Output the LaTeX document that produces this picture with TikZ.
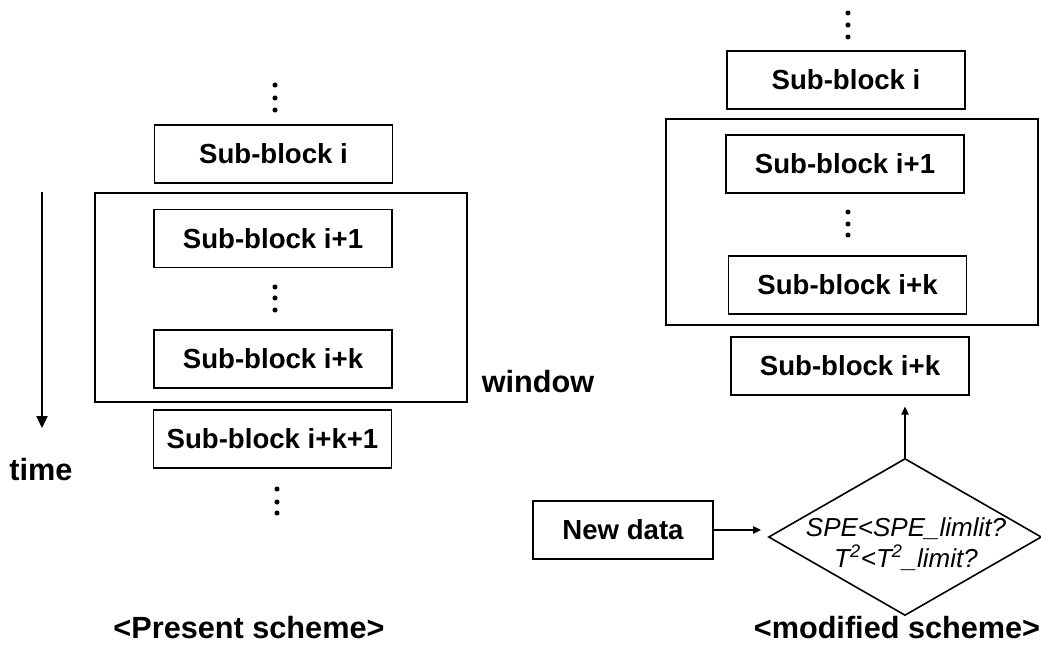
\documentclass[tikz,border=0pt]{standalone}
\usepackage{fontspec}
\setmainfont{Liberation Sans}
\usepackage{tikz}
\usetikzlibrary{calc,positioning,arrows.meta,shapes.geometric}
\newcommand{\blkfont}[0]{\fontsize{20.7}{24}\selectfont\bfseries}
\newcommand{\ttlfont}[0]{\fontsize{23}{26}\selectfont\bfseries}
\tikzset{
  subblk/.style={draw, line width=1.3pt, minimum width=178.5pt, minimum height=43.5pt, inner sep=0pt, font=\blkfont},
  winbox/.style={draw, line width=1.3pt, minimum width=279pt, inner sep=0pt},
  decision/.style={draw, diamond, line width=1.2pt, minimum width=204.75pt, minimum height=117.75pt, inner sep=0pt},
  condtxt/.style={align=center, inner sep=0pt, font=\fontsize{19.5}{23}\selectfont\itshape},
  ttl/.style={anchor=base, inner sep=0pt, font=\ttlfont},
  flow/.style={line width=0.9pt, -{Triangle[length=6pt,width=5.5pt]}}
}

\begin{document}
\begin{tikzpicture}[x=0.75pt,y=-0.75pt]
   \useasboundingbox (0,0) rectangle (1041,648);
   % present scheme
   \node[winbox, minimum height=156.75pt] (win1) at (281,297.5) {};
   \node[subblk] (sbi) at (273.5,154) {Sub-block i};
   \node[subblk] (sb1) at (273,238.5) {Sub-block i+1};
   \node[subblk] (sbk) at (273,359) {Sub-block i+k};
   \node[subblk] (sbk1) at (272.5,439) {Sub-block i+k+1};
   \node[ttl] (wlabel) at (538,392) {window};
           \foreach \y in {85,98,110}
    \fill (275,\y) circle (1.9pt);
           \foreach \y in {287,298,310}
    \fill (275,\y) circle (1.9pt);
           \foreach \y in {489,502,513}
    \fill (277,\y) circle (1.9pt);
   % time axis
   \coordinate (ttop) at (42,192);
   \coordinate (tbot) at (42,428);
   \draw[line width=0.9pt, -{Triangle[length=9pt,width=8.5pt]}] (ttop) -- (tbot);
   \node[ttl] (tlabel) at (41,480) {time};
   \node[ttl] (ptitle) at (249,638) {<Present scheme>};
   % modified scheme
   \node[winbox, minimum height=154.5pt] (win2) at (852,222) {};
   \node[subblk] (rsbi) at (846,80) {Sub-block i};
   \node[subblk] (rsb1) at (845,164) {Sub-block i+1};
   \node[subblk] (rsbk) at (847.5,285) {Sub-block i+k};
   \node[subblk] (rsbk2) at (850,366) {Sub-block i+k};
           \foreach \y in {13,25,37}
    \fill (848,\y) circle (1.9pt);
           \foreach \y in {212,224,235}
    \fill (848,\y) circle (1.9pt);
   \node[subblk, minimum width=135pt] (newd) at (623,530) {New data};
   \node[decision] (test) at (905,537) {};
   \node[condtxt] (cond) at (906,544) {SPE<SPE\_limlit?\\T\textsuperscript{2}<T\textsuperscript{2}\_limit?};
   \draw[flow, shorten >=5pt] (newd.east) -- (newd.east -| test.west);
   \draw[flow, shorten >=8pt] (test.north) -- (test.north |- rsbk2.south);
   \node[ttl] (mtitle) at (897,638) {<modified scheme>};
\end{tikzpicture}
\end{document}
